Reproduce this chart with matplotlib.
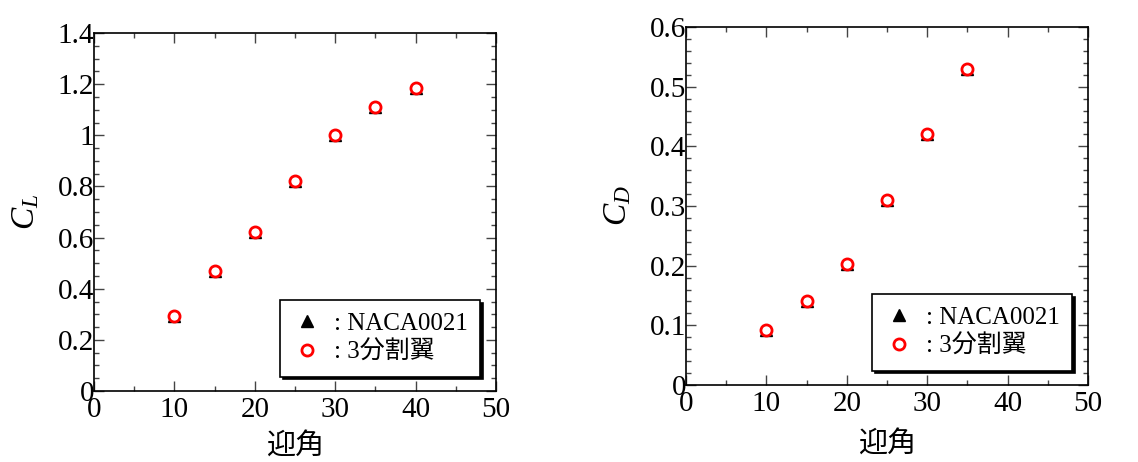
import matplotlib
matplotlib.use("Agg")
import matplotlib.pyplot as plt
from matplotlib.ticker import MultipleLocator, FuncFormatter

plt.rcParams['font.family'] = ['Liberation Serif', 'Noto Sans CJK JP', 'DejaVu Sans']
plt.rcParams['mathtext.fontset'] = 'custom'
plt.rcParams['mathtext.it'] = 'Liberation Serif:italic'
plt.rcParams['mathtext.rm'] = 'Liberation Serif'

alpha_cl = [10, 15, 20, 25, 30, 35, 40]
cl_naca = [0.295, 0.47, 0.62, 0.82, 1.0, 1.11, 1.185]
cl_split = [0.295, 0.47, 0.62, 0.82, 1.0, 1.11, 1.185]

alpha_cd = [10, 15, 20, 25, 30, 35]
cd_naca = [0.092, 0.14, 0.203, 0.31, 0.42, 0.53]
cd_split = [0.092, 0.14, 0.203, 0.31, 0.42, 0.53]

label_naca = ": NACA0021"
label_split = ": 3分割翼"
xlabel = "迎角"

W, H = 1138, 462
fig = plt.figure(figsize=(W/100, H/100), dpi=100)

def fmt(v, pos):
    return ('%.2f' % v).rstrip('0').rstrip('.')

def make(ax_rect, x, y1, y2, ylim, ymaj, ymin, ylab, xlabpad):
    ax = fig.add_axes(ax_rect)
    ax.plot(x, y1, linestyle='none', marker='^', color='black', markersize=9, zorder=3)
    ax.plot(x, y2, linestyle='none', marker='o', markerfacecolor='white',
            markeredgecolor='red', markeredgewidth=2, markersize=8, zorder=4)
    ax.set_xlim(0, 50)
    ax.set_ylim(*ylim)
    ax.xaxis.set_major_locator(MultipleLocator(10))
    ax.xaxis.set_minor_locator(MultipleLocator(5))
    ax.yaxis.set_major_locator(MultipleLocator(ymaj))
    ax.yaxis.set_minor_locator(MultipleLocator(ymin))
    ax.yaxis.set_major_formatter(FuncFormatter(fmt))
    ax.tick_params(which='both', direction='in', top=True, right=True, labelsize=21,
                   colors='#444444', labelcolor='black')
    ax.tick_params(axis='y', pad=0)
    ax.tick_params(axis='x', pad=4)
    ax.tick_params(which='major', length=7, width=1)
    ax.tick_params(which='minor', length=3.5, width=1)
    for s in ax.spines.values():
        s.set_linewidth(1.2)
    ax.set_xlabel(xlabel, fontsize=21, labelpad=xlabpad)
    ax.set_ylabel(ylab, fontsize=24, labelpad=12)
    h1 = plt.Line2D([], [], linestyle='none', marker='^', color='black', markersize=9)
    h2 = plt.Line2D([], [], linestyle='none', marker='o', markerfacecolor='none',
                    markeredgecolor='red', markeredgewidth=2, markersize=8)
    leg = ax.legend([h1, h2], [label_naca, label_split], loc='lower right',
                    bbox_to_anchor=(0.96, 0.04), fontsize=18, frameon=True,
                    fancybox=False, shadow={'color': 'black', 'alpha': 1},
                    borderpad=0.5, labelspacing=0.25, handletextpad=0.45,
                    handlelength=1.2, borderaxespad=0)
    leg.get_frame().set_edgecolor('black')
    leg.get_frame().set_linewidth(1.2)
    leg.get_frame().set_alpha(1)
    return ax, leg

ax1, l1 = make([94/W, 1 - 391/H, (496-94)/W, (391-33)/H], alpha_cl, cl_naca, cl_split,
               (0, 1.4), 0.2, 0.05, r'$C_L$', 8)
ax2, l2 = make([686/W, 1 - 385/H, (1088-686)/W, (385-27)/H], alpha_cd, cd_naca, cd_split,
               (0, 0.6), 0.1, 0.02, r'$C_D$', 11)

fig.savefig('out.png', dpi=100)
